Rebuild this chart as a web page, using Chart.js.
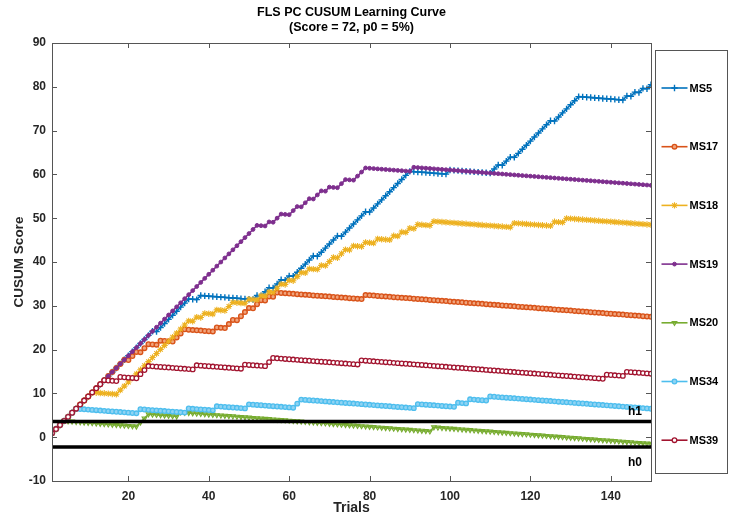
<!DOCTYPE html>
<html><head><meta charset="utf-8">
<script src="https://cdn.jsdelivr.net/npm/chart.js@4/dist/chart.umd.min.js"></script>
<style>html,body{margin:0;padding:0;background:#fff}#wrap{width:731px;height:519px}</style>
</head><body><div id="wrap"><canvas id="c" width="731" height="519"></canvas></div>
<script>
const trials = Array.from({length: 150}, (_, i) => i + 1);
const xTicks = [20, 40, 60, 80, 100, 120, 140];
const yTicks = [-10, 0, 10, 20, 30, 40, 50, 60, 70, 80, 90];
const seriesNames = ['MS5', 'MS17', 'MS18', 'MS19', 'MS20', 'MS34', 'MS39'];
const thresholdNames = ['h1', 'h0'];
const thresholdValues = [3.6, -2.25];

const ms5 = [0.93,1.86,2.79,3.72,4.65,5.58,6.51,7.44,8.37,9.30,10.23,11.16,12.09,13.02,13.95,14.88,15.81,16.74,17.67,18.60,19.53,20.46,21.39,22.32,23.25,24.18,24.11,25.04,25.97,26.90,27.83,28.76,29.69,30.62,31.55,
31.48,31.41,32.34,32.27,32.20,32.13,32.06,31.99,31.92,31.85,31.78,31.71,31.64,31.57,31.50,31.43,32.36,32.29,33.22,34.15,34.08,35.01,35.94,35.87,36.80,36.73,37.66,38.59,39.52,40.45,41.38,41.31,42.24,43.17,44.10,45.03,45.96,45.89,46.82,47.75,48.68,49.61,50.54,51.47,51.40,52.33,53.26,54.19,55.12,56.05,56.98,57.91,58.84,59.77,60.70,
60.63,60.56,60.49,60.42,60.35,60.28,60.21,60.14,60.07,61.00,60.93,60.86,60.79,60.72,60.65,60.58,60.51,60.44,60.37,60.30,
61.23,62.16,62.09,63.02,63.95,63.88,64.81,65.74,66.67,67.60,68.53,69.46,70.39,71.32,72.25,72.18,73.11,74.04,74.97,75.90,76.83,77.76,
77.69,77.62,77.55,77.48,77.41,77.34,77.27,77.20,77.13,77.06,76.99,77.92,77.85,78.78,78.71,79.64,79.57,80.50];

const ms17 = [0.93,1.86,2.79,3.72,4.65,5.58,6.51,7.44,8.37,9.30,10.23,11.16,12.09,13.02,13.95,14.88,15.81,16.74,
17.67,17.60,18.53,19.46,19.39,20.32,21.25,21.18,21.11,22.04,21.97,21.90,21.83,22.76,23.69,24.62,24.55,24.48,24.41,24.34,24.27,24.20,24.13,25.06,24.99,24.92,25.85,26.78,26.71,27.64,28.57,29.50,29.43,30.36,31.29,31.22,32.15,32.08,33.01,
32.94,32.87,32.80,32.73,32.66,32.59,32.52,32.45,32.38,32.31,32.24,32.17,32.10,32.03,31.96,31.89,31.82,31.75,31.68,31.61,31.54,32.47,
32.40,32.33,32.26,32.19,32.12,32.05,31.98,31.91,31.84,31.77,31.70,31.63,31.56,31.49,31.42,31.35,31.28,31.21,31.14,31.07,31.00,
30.93,30.86,30.79,30.72,30.65,30.58,30.51,30.44,30.37,30.30,30.23,30.16,30.09,30.02,29.95,29.88,29.81,29.74,29.67,29.60,
29.53,29.46,29.39,29.32,29.25,29.18,29.11,29.04,28.97,28.90,28.83,28.76,28.69,28.62,28.55,28.48,28.41,28.34,28.27,28.20,
28.13,28.06,27.99,27.92,27.85,27.78,27.71,27.64,27.57,27.50];

const ms18 = [0.93,1.86,2.79,3.72,4.65,5.58,6.51,7.44,8.37,9.30,10.23,10.16,10.09,10.02,9.95,9.88,9.81,
10.74,11.67,12.60,13.53,14.46,15.39,16.32,17.25,18.18,19.11,20.04,20.97,21.90,22.83,23.76,24.69,25.62,26.55,26.48,27.41,27.34,28.27,28.20,28.13,29.06,28.99,28.92,29.85,30.78,30.71,30.64,30.57,31.50,31.43,31.36,32.29,32.22,33.15,33.08,34.01,34.94,34.87,35.80,35.73,36.66,37.59,37.52,38.45,38.38,38.31,39.24,39.17,40.10,41.03,40.96,41.89,42.82,42.75,43.68,43.61,43.54,44.47,44.40,44.33,45.26,45.19,45.12,45.05,45.98,45.91,46.84,46.77,47.70,47.63,48.56,48.49,48.42,48.35,49.28,
49.21,49.14,49.07,49.00,48.93,48.86,48.79,48.72,48.65,48.58,48.51,48.44,48.37,48.30,48.23,48.16,48.09,48.02,47.95,
48.88,48.81,48.74,48.67,48.60,48.53,48.46,48.39,48.32,48.25,49.18,49.11,49.04,49.97,49.90,
49.83,49.76,49.69,49.62,49.55,49.48,49.41,49.34,49.27,49.20,49.13,49.06,48.99,48.92,48.85,48.78,48.71,48.64,48.57,48.50];

const ms19 = [0.93,1.86,2.79,3.72,4.65,5.58,6.51,7.44,8.37,9.30,10.23,11.16,12.09,13.02,13.95,14.88,15.81,16.74,17.67,18.60,19.53,20.46,21.39,22.32,23.25,24.18,25.11,
26.04,26.97,27.90,28.83,29.76,30.69,31.62,32.55,33.48,34.41,35.34,36.27,37.20,38.13,39.06,39.99,40.92,41.85,42.78,43.71,44.64,45.57,46.50,47.43,48.36,
48.29,48.22,49.15,49.08,50.01,50.94,50.87,50.80,51.73,52.66,52.59,53.52,54.45,54.38,55.31,56.24,56.17,57.10,57.03,56.96,57.89,58.82,58.75,58.68,59.61,60.54,61.47,
61.40,61.33,61.26,61.19,61.12,61.05,60.98,60.91,60.84,60.77,60.70,61.63,
61.56,61.49,61.42,61.35,61.28,61.21,61.14,61.07,61.00,60.93,60.86,60.79,60.72,60.65,60.58,60.51,60.44,60.37,60.30,
60.23,60.16,60.09,60.02,59.95,59.88,59.81,59.74,59.67,59.60,59.53,59.46,59.39,59.32,59.25,59.18,59.11,59.04,58.97,58.90,
58.83,58.76,58.69,58.62,58.55,58.48,58.41,58.34,58.27,58.20,58.13,58.06,57.99,57.92,57.85,57.78,57.71,57.64,57.57,57.50];

const ms20 = [0.93,1.86,2.79,3.72,3.65,3.58,3.51,3.44,3.37,3.30,3.23,3.16,3.09,3.02,2.95,2.88,2.81,2.74,2.67,2.60,2.53,2.46,
3.39,4.32,5.25,5.18,5.11,5.04,4.97,4.90,4.83,4.76,5.69,
5.62,5.55,5.48,5.41,5.34,5.27,5.20,5.13,5.06,4.99,4.92,4.85,4.78,4.71,4.64,4.57,4.50,4.43,4.36,4.29,4.22,4.15,4.08,4.01,3.94,3.87,3.80,
3.73,3.66,3.59,3.52,3.45,3.38,3.31,3.24,3.17,3.10,3.03,2.96,2.89,2.82,2.75,2.68,2.61,2.54,2.47,2.40,
2.33,2.26,2.19,2.12,2.05,1.98,1.91,1.84,1.77,1.70,1.63,1.56,1.49,1.42,1.35,2.28,
2.21,2.14,2.07,2.00,1.93,1.86,1.79,1.72,1.65,1.58,1.51,1.44,1.37,1.30,1.23,1.16,1.09,1.02,0.95,0.88,0.81,0.74,0.67,0.60,
0.53,0.46,0.39,0.32,0.25,0.18,0.11,0.04,-0.03,-0.10,-0.17,-0.24,-0.31,-0.38,-0.45,-0.52,-0.59,-0.66,-0.73,-0.80,
-0.87,-0.94,-1.01,-1.08,-1.15,-1.22,-1.29,-1.36,-1.43,-1.50];

const ms34 = [0.93,1.86,2.79,3.72,4.65,5.58,6.51,6.44,6.37,6.30,6.23,6.16,6.09,6.02,5.95,5.88,5.81,5.74,5.67,5.60,5.53,5.46,
6.39,6.32,6.25,6.18,6.11,6.04,5.97,5.90,5.83,5.76,5.69,5.62,6.55,6.48,6.41,6.34,6.27,6.20,6.13,7.06,6.99,6.92,6.85,6.78,6.71,6.64,6.57,
7.50,7.43,7.36,7.29,7.22,7.15,7.08,7.01,6.94,6.87,6.80,6.73,7.66,8.59,
8.52,8.45,8.38,8.31,8.24,8.17,8.10,8.03,7.96,7.89,7.82,7.75,7.68,7.61,7.54,7.47,7.40,7.33,7.26,7.19,7.12,7.05,6.98,6.91,6.84,6.77,6.70,6.63,
7.56,7.49,7.42,7.35,7.28,7.21,7.14,7.07,7.00,6.93,7.86,7.79,7.72,8.65,8.58,8.51,8.44,8.37,9.30,
9.23,9.16,9.09,9.02,8.95,8.88,8.81,8.74,8.67,8.60,8.53,8.46,8.39,8.32,8.25,8.18,8.11,8.04,7.97,7.90,
7.83,7.76,7.69,7.62,7.55,7.48,7.41,7.34,7.27,7.20,7.13,7.06,6.99,6.92,6.85,6.78,6.71,6.64,6.57,6.50];

const ms39 = [0.93,1.86,2.79,3.72,4.65,5.58,6.51,7.44,8.37,9.30,10.23,11.16,12.09,13.02,
12.95,12.88,12.81,13.74,13.67,13.60,13.53,13.46,14.39,15.32,16.25,
16.18,16.11,16.04,15.97,15.90,15.83,15.76,15.69,15.62,15.55,15.48,16.41,
16.34,16.27,16.20,16.13,16.06,15.99,15.92,15.85,15.78,15.71,15.64,16.57,16.50,16.43,16.36,16.29,16.22,17.15,18.08,
18.01,17.94,17.87,17.80,17.73,17.66,17.59,17.52,17.45,17.38,17.31,17.24,17.17,17.10,17.03,16.96,16.89,16.82,16.75,16.68,16.61,17.54,
17.47,17.40,17.33,17.26,17.19,17.12,17.05,16.98,16.91,16.84,16.77,16.70,16.63,16.56,16.49,16.42,16.35,16.28,16.21,16.14,16.07,16.00,
15.93,15.86,15.79,15.72,15.65,15.58,15.51,15.44,15.37,15.30,15.23,15.16,15.09,15.02,14.95,14.88,14.81,14.74,14.67,14.60,
14.53,14.46,14.39,14.32,14.25,14.18,14.11,14.04,13.97,13.90,13.83,13.76,13.69,13.62,13.55,13.48,13.41,13.34,
14.27,14.20,14.13,14.06,13.99,14.92,14.85,14.78,14.71,14.64,14.57,14.50];

const seriesValues = [ms5, ms17, ms18, ms19, ms20, ms34, ms39];
const colors = ['#0072BD', '#D95319', '#EDB120', '#7E2F8E', '#77AC30', '#4DBEEE', '#A2142F'];
const pStyles = [
  {pointStyle: 'cross', radius: 3.2, bg: '#0072BD', bw: 1.4, rot: 0},
  {pointStyle: 'circle', radius: 2.3, bg: '#F0A57E', bw: 1.4, rot: 0},
  {pointStyle: 'star', radius: 3.2, bg: '#EDB120', bw: 1.1, rot: 0},
  {pointStyle: 'circle', radius: 1.9, bg: '#7E2F8E', bw: 1, rot: 0},
  {pointStyle: 'triangle', radius: 2.7, bg: 'rgba(119,172,48,0.35)', bw: 1.1, rot: 180},
  {pointStyle: 'circle', radius: 2.3, bg: '#8FD3F3', bw: 1.3, rot: 0},
  {pointStyle: 'circle', radius: 2.3, bg: '#ffffff', bw: 1.3, rot: 0}
];

const FONT = 'Liberation Sans, Arial, Helvetica, sans-serif';
const AX = '#262626';

const datasets = seriesNames.map((name, i) => ({
  label: name,
  data: seriesValues[i],
  borderColor: colors[i],
  backgroundColor: colors[i],
  borderWidth: 1.6,
  pointStyle: pStyles[i].pointStyle,
  pointRadius: pStyles[i].radius,
  pointBorderWidth: pStyles[i].bw,
  pointBackgroundColor: pStyles[i].bg,
  pointBorderColor: colors[i],
  pointRotation: pStyles[i].rot,
  tension: 0,
  order: 7 - i
}));
thresholdNames.forEach((name, j) => {
  datasets.push({
    label: name,
    data: trials.map(() => thresholdValues[j]),
    borderColor: '#000000',
    borderWidth: 3.5,
    pointRadius: 0,
    tension: 0,
    order: 0
  });
});

const framePlugin = {
  id: 'frame',
  afterDraw(chart) {
    const {ctx, chartArea: a, scales: {x, y}} = chart;
    ctx.save();
    ctx.strokeStyle = '#555';
    ctx.lineWidth = 1;
    ctx.strokeRect(Math.round(a.left) + 0.5, Math.round(a.top) + 0.5, Math.round(a.right - a.left), Math.round(a.bottom - a.top));
    const tl = 5;
    ctx.beginPath();
    xTicks.forEach(v => {
      const px = Math.round(x.getPixelForValue(v)) + 0.5;
      ctx.moveTo(px, a.bottom); ctx.lineTo(px, a.bottom - tl);
      ctx.moveTo(px, a.top); ctx.lineTo(px, a.top + tl);
    });
    yTicks.forEach(v => {
      const py = Math.round(y.getPixelForValue(v)) + 0.5;
      ctx.moveTo(a.left, py); ctx.lineTo(a.left + tl, py);
      ctx.moveTo(a.right, py); ctx.lineTo(a.right - tl, py);
    });
    ctx.stroke();

    // threshold labels
    ctx.fillStyle = '#000';
    ctx.font = 'bold 12px ' + FONT;
    ctx.textAlign = 'right';
    ctx.textBaseline = 'middle';
    const xr = x.getPixelForValue(150) - 9;
    ctx.fillText(thresholdNames[0], xr, y.getPixelForValue(thresholdValues[0]) - 10);
    ctx.fillText(thresholdNames[1], xr, y.getPixelForValue(thresholdValues[1]) + 16);

    // title
    ctx.textAlign = 'center';
    ctx.fillStyle = '#000';
    ctx.font = 'bold 12.5px ' + FONT;
    const cx = (a.left + a.right) / 2;
    ctx.fillText('FLS PC CUSUM Learning Curve', cx, 13);
    ctx.fillText('(Score = 72, p0 = 5%)', cx, 28);

    // legend box
    const lx = a.right + 4.5, ly = 50.5, lw = 72, lh = 423;
    ctx.strokeStyle = '#555';
    ctx.lineWidth = 1;
    ctx.strokeRect(lx, ly, lw, lh);
    ctx.font = 'bold 11px ' + FONT;
    ctx.textAlign = 'left';
    seriesNames.forEach((name, i) => {
      const yy = 88 + i * 58.7;
      ctx.strokeStyle = colors[i];
      ctx.lineWidth = 1.6;
      ctx.beginPath();
      ctx.moveTo(lx + 6, yy); ctx.lineTo(lx + 32, yy);
      ctx.stroke();
      ctx.fillStyle = pStyles[i].bg;
      ctx.strokeStyle = colors[i];
      ctx.lineWidth = pStyles[i].bw;
      Chart.helpers.drawPoint(ctx, {pointStyle: pStyles[i].pointStyle, radius: pStyles[i].radius, rotation: pStyles[i].rot, borderWidth: pStyles[i].bw}, lx + 19, yy);
      ctx.fillStyle = '#000';
      ctx.fillText(name, lx + 34, yy + 0.5);
    });
    ctx.restore();
  }
};

new Chart(document.getElementById('c'), {
  type: 'line',
  data: {labels: trials, datasets},
  options: {
    responsive: false,
    animation: false,
    events: [],
    layout: {padding: {top: 43, right: 80, left: 0, bottom: 0}},
    plugins: {legend: {display: false}, title: {display: false}, tooltip: {enabled: false}},
    scales: {
      x: {
        type: 'linear', min: 1, max: 150,
        afterBuildTicks: s => { s.ticks = xTicks.map(v => ({value: v})); },
        afterFit: s => { s.height = 38; },
        grid: {display: false, drawTicks: false},
        border: {display: false},
        ticks: {font: {family: FONT, size: 12, weight: 'bold'}, color: AX, padding: 8, maxRotation: 0, autoSkip: false},
        title: {display: true, text: 'Trials', color: AX, font: {family: FONT, size: 14, weight: 'bold'}, padding: {top: 0, bottom: 2}}
      },
      y: {
        type: 'linear', min: -10, max: 90,
        afterBuildTicks: s => { s.ticks = yTicks.map(v => ({value: v})); },
        afterFit: s => { s.width = 52; },
        grid: {display: false, drawTicks: false},
        border: {display: false},
        ticks: {font: {family: FONT, size: 12, weight: 'bold'}, color: AX, padding: 6, autoSkip: false},
        title: {display: true, text: 'CUSUM Score', color: AX, font: {family: FONT, size: 13.5, weight: 'bold'}, padding: {top: 11, bottom: 0}}
      }
    }
  },
  plugins: [framePlugin]
});
</script></body></html>
